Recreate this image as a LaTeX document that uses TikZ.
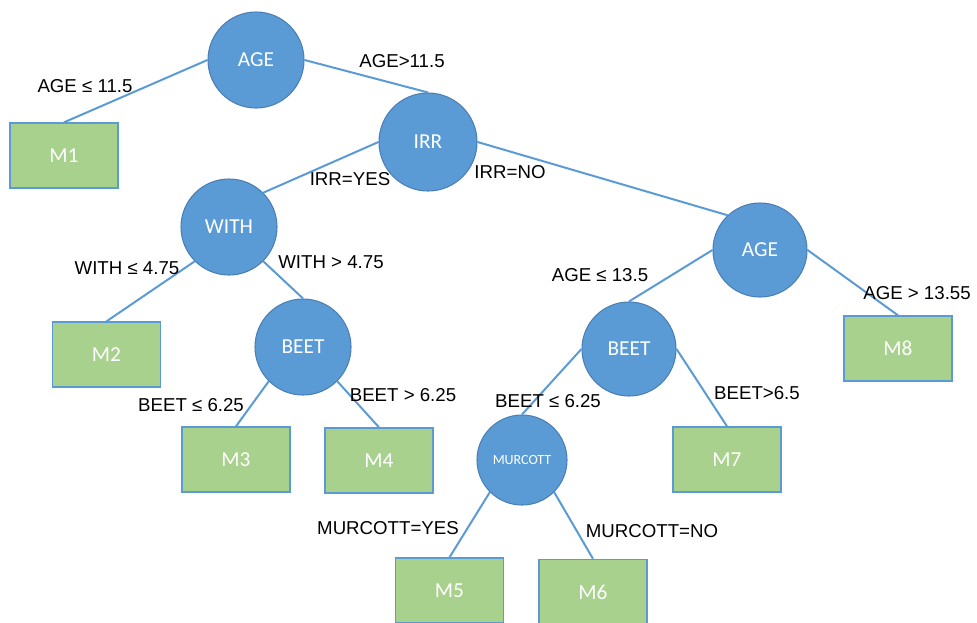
\documentclass[tikz,border=0pt]{standalone}
\usepackage{fontspec}
\setmainfont{Liberation Sans}
\newfontfamily\carlito{Carlito}
\usetikzlibrary{positioning}

\definecolor{nodeblue}{HTML}{5B9BD5}
\definecolor{nodeedge}{HTML}{4A7FB5}
\definecolor{leafgreen}{HTML}{A9D18E}

\begin{document}
\begin{tikzpicture}[
        x=0.75pt,y=-0.75pt,
        mycircle/.style={
        circle,
        draw=nodeedge,
        fill=nodeblue,
        line width=0.8pt,
        text=white,
        inner sep=0pt,
        minimum size=72pt,
        font=\carlito\fontsize{16}{18}\selectfont},
    myleaf/.style={
        rectangle,
        draw=nodeblue,
        fill=leafgreen,
        line width=1pt,
        text=white,
        minimum width=81pt,
        minimum height=48.75pt,
        font=\carlito\fontsize{16}{18}\selectfont},
    myline/.style={draw=nodeblue,line width=1.5pt},
    mylabel/.style={inner sep=0pt,font=\fontsize{14}{16}\selectfont}
    ]
    \useasboundingbox (0,0) rectangle (977,622);

    \node[mycircle] (c1) at (256,60) {AGE};
    \node[mycircle,minimum size=73.5pt] (c2) at (428,142) {IRR};
    \node[mycircle] (c3) at (229,227) {WITH};
    \node[mycircle,minimum size=70.5pt] (c4) at (760,250) {AGE};
    \node[mycircle] (c5) at (303,347) {BEET};
    \node[mycircle,minimum size=70.5pt] (c6) at (629,349) {BEET};
    \node[mycircle,minimum size=67.5pt,font=\carlito\fontsize{10.5}{12}\selectfont] (c7) at (522,460) {MURCOTT};

    \node[myleaf] (m1) at (64,155.5) {M1};
    \node[myleaf] (m2) at (106.5,354.5) {M2};
    \node[myleaf] (m3) at (236,459.5) {M3};
    \node[myleaf] (m4) at (379,460.5) {M4};
    \node[myleaf] (m5) at (449.5,590.5) {M5};
    \node[myleaf] (m6) at (593,592) {M6};
    \node[myleaf] (m7) at (727,459.5) {M7};
    \node[myleaf] (m8) at (898,348.5) {M8};

    \foreach \i/\j in {% start/end
        c1.west/m1.north,
        c1.east/c2.north,
        c2.west/c3.45,
        c2.east/c4.133,
        c3.225/m2.north,
        c3.-45/c5.north,
        c5.225/m3.north,
        c5.-45/m4.north,
        c4.west/c6.north,
        c4.east/m8.north,
        c6.west/c7.north,
        c6.east/m7.north,
        c7.225/m5.north,
        c7.-45/m6.north}
        \draw [myline] (\i) -- (\j);

    \foreach \n/\x/\y/\txt in {% name/x/y/text
        l1/85/86/{AGE ≤ 11.5},
        l2/402/61/{AGE>11.5},
        l3/350/179/{IRR=YES},
        l4/510/172/{IRR=NO},
        l5/127/268/{WITH ≤ 4.75},
        l6/331/262/{WITH > 4.75},
        l7/600/275/{AGE ≤ 13.5},
        l8/917/293/{AGE > 13.55},
        l9/191/405/{BEET ≤ 6.25},
        l10/403/395/{BEET > 6.25},
        l11/548/401/{BEET ≤ 6.25},
        l12/757/393/{BEET>6.5},
        l13/388/528/{MURCOTT=YES},
        l14/652/531/{MURCOTT=NO}}
        \node[mylabel] (\n) at (\x,\y) {\txt};
\end{tikzpicture}
\end{document}
